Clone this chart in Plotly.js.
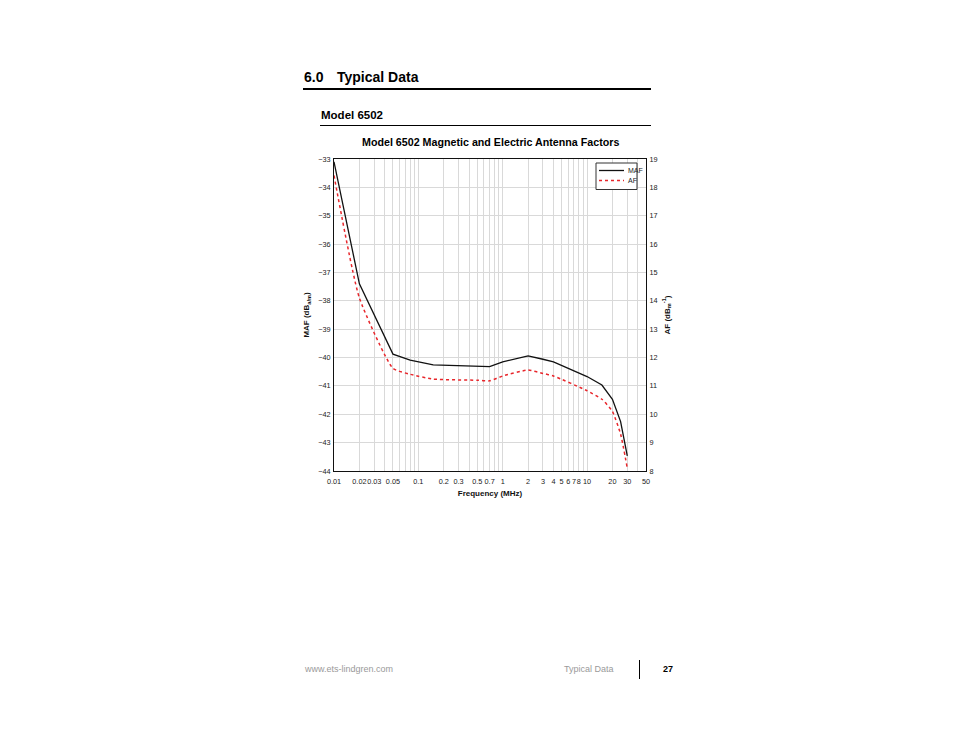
<!DOCTYPE html>
<html>
<head>
<meta charset="utf-8">
<script src="https://cdn.plot.ly/plotly-3.0.1.min.js"></script>
<style>
html,body{margin:0;padding:0;background:#fff;}
#chart{width:954px;height:738px;}
</style>
</head>
<body>
<div id="chart"></div>
<script>
// Frequency (MHz)
var freqMHz = [0.01, 0.02, 0.05, 0.08, 0.15, 0.5, 0.7, 1, 2, 3, 4, 10, 15, 20, 25, 30];
// Magnetic antenna factor, dB(S/m)
var mafValues = [-33.1, -37.4, -39.88, -40.09, -40.26, -40.3, -40.32, -40.15, -39.94, -40.06, -40.15, -40.67, -40.97, -41.47, -42.26, -43.47];
// Electric antenna factor, dB(1/m)
var afValues = [18.42, 14.1, 11.62, 11.41, 11.24, 11.2, 11.18, 11.35, 11.56, 11.44, 11.35, 10.83, 10.53, 10.1, 9.3, 8.1];

// labelled x ticks
var xTickVals = [0.01,0.02,0.03,0.05,0.1,0.2,0.3,0.5,0.7,1,2,3,4,5,6,7,8,10,20,30,50];
var xTickText = ['0.01','0.02','0.03','0.05','0.1','0.2','0.3','0.5','0.7','1','2','3','4','5','6','7','8','10','20','30','50'];
// unlabelled grid positions
var xMinorVals = [0.04,0.06,0.07,0.08,0.09,0.4,0.6,0.8,0.9,9,40];

var ARIAL = '"Liberation Sans", Arial, sans-serif';

var traces = [
  {x: freqMHz, y: mafValues, name: 'MAF', type: 'scatter', mode: 'lines',
   line: {color: '#111111', width: 1.3}, yaxis: 'y'},
  {x: freqMHz, y: afValues, name: 'AF', type: 'scatter', mode: 'lines',
   line: {color: '#e8262b', width: 1.5, dash: '3px,3px', shape: 'spline', smoothing: 0.5}, yaxis: 'y2'}
];

function px(p){ return (p-334)/312; }
function py(p){ return (471-p)/312; }

var layout = {
  width: 954, height: 738,
  margin: {l: 334, r: 308, t: 159, b: 267},
  paper_bgcolor: '#ffffff', plot_bgcolor: '#ffffff',
  showlegend: false,
  xaxis: {type: 'log', range: [Math.log10(0.01), Math.log10(50)],
    tickmode: 'array', tickvals: xTickVals, ticktext: xTickText, ticks: '',
    ticklabelstandoff: 3,
    showgrid: true, gridcolor: '#d9d9d9', gridwidth: 1,
    minor: {tickmode: 'array', tickvals: xMinorVals, showgrid: true, gridcolor: '#d9d9d9', gridwidth: 1, ticks: ''},
    showline: true, linecolor: '#111', linewidth: 1, mirror: true,
    zeroline: false, tickangle: 0,
    tickfont: {family: ARIAL, size: 7.3, color: '#222'},
    title: {text: '<b>Frequency (MHz)</b>', font: {family: ARIAL, size: 8, color: '#111'}, standoff: 5}},
  yaxis: {range: [-44, -33], dtick: 1, tick0: -44, ticks: '',
    showgrid: true, gridcolor: '#d9d9d9', gridwidth: 1,
    showline: true, linecolor: '#111', linewidth: 1, mirror: true,
    zeroline: false, ticklabelstandoff: 1,
    tickfont: {family: ARIAL, size: 7.3, color: '#222'},
    title: {text: '<b>MAF (dB<sub>a/m</sub>)</b>', font: {family: ARIAL, size: 8, color: '#111'}, standoff: 7}},
  yaxis2: {range: [8, 19], dtick: 1, tick0: 8, ticks: '', overlaying: 'y', side: 'right',
    showgrid: false, showline: true, linecolor: '#111', linewidth: 1, zeroline: false,
    ticklabelstandoff: 1,
    tickfont: {family: ARIAL, size: 7.3, color: '#222'},
    title: {text: '<b>AF (dB<sub>m</sub><sup>-1</sup>)</b>', font: {family: ARIAL, size: 8, color: '#111'}, standoff: 7}},
  shapes: [
    {type: 'line', xref: 'paper', yref: 'paper', x0: px(303), x1: px(651), y0: py(89), y1: py(89), line: {color: '#000', width: 2}},
    {type: 'line', xref: 'paper', yref: 'paper', x0: px(320), x1: px(651), y0: py(125.5), y1: py(125.5), line: {color: '#000', width: 1}},
    {type: 'line', xref: 'paper', yref: 'paper', x0: px(639.5), x1: px(639.5), y0: py(660), y1: py(679), line: {color: '#000', width: 1}},
    // legend box
    {type: 'rect', xref: 'paper', yref: 'paper', x0: px(596), x1: px(637), y0: py(163), y1: py(189.5), fillcolor: '#ffffff', line: {color: '#333', width: 1}, layer: 'above'},
    {type: 'line', xref: 'paper', yref: 'paper', x0: px(599), x1: px(624), y0: py(170.5), y1: py(170.5), line: {color: '#111', width: 1.3}, layer: 'above'},
    {type: 'line', xref: 'paper', yref: 'paper', x0: px(599), x1: px(624), y0: py(180.5), y1: py(180.5), line: {color: '#e8262b', width: 1.5, dash: '3px,3px'}, layer: 'above'}
  ],
  annotations: [
    {text: '<b>6.0</b>', xref: 'paper', yref: 'paper', x: px(302), y: py(77), xanchor: 'left', yanchor: 'middle', showarrow: false,
     font: {family: ARIAL, size: 14, color: '#000'}},
    {text: '<b>Typical Data</b>', xref: 'paper', yref: 'paper', x: px(335), y: py(77), xanchor: 'left', yanchor: 'middle', showarrow: false,
     font: {family: ARIAL, size: 14, color: '#000'}},
    {text: '<b>Model 6502</b>', xref: 'paper', yref: 'paper', x: px(319), y: py(115), xanchor: 'left', yanchor: 'middle', showarrow: false,
     font: {family: ARIAL, size: 11.5, color: '#000'}},
    {text: '<b>Model 6502 Magnetic and Electric Antenna Factors</b>', xref: 'paper', yref: 'paper', x: px(490), y: py(142), xanchor: 'center', yanchor: 'middle', showarrow: false,
     font: {family: ARIAL, size: 10.7, color: '#000'}},
    {text: 'MAF', xref: 'paper', yref: 'paper', x: px(626), y: py(170.5), xanchor: 'left', yanchor: 'middle', showarrow: false,
     font: {family: ARIAL, size: 7, color: '#222'}},
    {text: 'AF', xref: 'paper', yref: 'paper', x: px(626), y: py(180.5), xanchor: 'left', yanchor: 'middle', showarrow: false,
     font: {family: ARIAL, size: 7, color: '#222'}},
    {text: 'www.ets-lindgren.com', xref: 'paper', yref: 'paper', x: px(302), y: py(669), xanchor: 'left', yanchor: 'middle', showarrow: false,
     font: {family: ARIAL, size: 9, color: '#9a9a9a'}},
    {text: 'Typical Data', xref: 'paper', yref: 'paper', x: px(562), y: py(669), xanchor: 'left', yanchor: 'middle', showarrow: false,
     font: {family: ARIAL, size: 9, color: '#9a9a9a'}},
    {text: '<b>27</b>', xref: 'paper', yref: 'paper', x: px(661), y: py(669), xanchor: 'left', yanchor: 'middle', showarrow: false,
     font: {family: ARIAL, size: 9, color: '#000'}}
  ]
};

Plotly.newPlot('chart', traces, layout, {displayModeBar: false, staticPlot: true});
</script>
</body>
</html>
